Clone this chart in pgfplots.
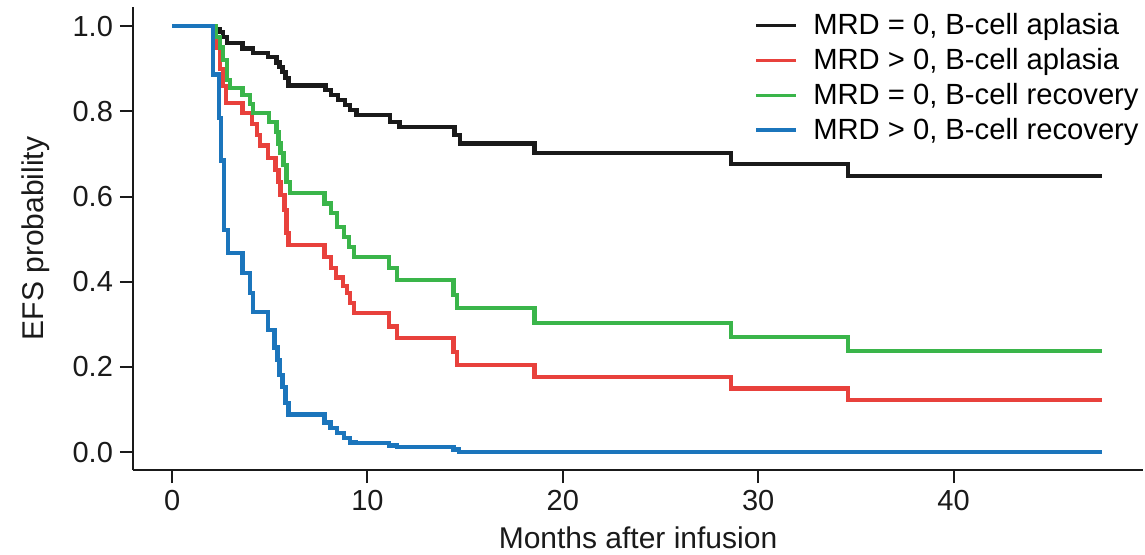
\documentclass[border=0pt]{standalone}
\usepackage{fontspec}
\setmainfont{Liberation Sans}
\usepackage{pgfplots}
\pgfplotsset{compat=1.18}
\definecolor{cblack}{HTML}{1A1A1A}
\definecolor{cred}{HTML}{E8413C}
\definecolor{cgreen}{HTML}{3AB54A}
\definecolor{cblue}{HTML}{1B75BC}
\begin{document}
\begin{tikzpicture}
\begin{axis}[
  at={(0,0)}, anchor=south west,
  scale only axis, width=505pt, height=231.5pt,
  xmin=-2, xmax=49.7, ymin=-0.042, ymax=1.045,
  axis lines=left, axis line style={-, line width=1.2pt, color=cblack},
  tick align=outside, major tick length=6.5pt,
  tick style={line width=1pt, color=cblack},
  xtick={0,10,20,30,40}, ytick={0,0.2,0.4,0.6,0.8,1.0},
  yticklabels={0.0,0.2,0.4,0.6,0.8,1.0},
  /pgf/number format/assume math mode=true,
  tick label style={font=\fontsize{14.5}{16}\selectfont, color=cblack},
  xlabel={Months after infusion}, ylabel={EFS probability},
  every axis x label/.style={at={(axis description cs:0.5,0)}, anchor=center, yshift=-34pt},
  every axis y label/.style={at={(axis description cs:-0.096,0.5)}, rotate=90, anchor=center},
  label style={font=\fontsize{15}{17}\selectfont, color=cblack},
  legend style={at={(1.0,0.995)}, anchor=north east, draw=none, fill=none,
    font=\fontsize{14.6}{16.5}\selectfont, row sep=1.3pt, inner sep=0pt,
    cells={anchor=west}},
  legend image code/.code={\draw[#1, line width=1.6pt] (0pt,0pt) -- (20pt,0pt); \path[draw=none] (20pt,0pt) -- (26.5pt,0pt);},
  every axis plot/.append style={const plot, line width=2.2pt, mark=none},
]
\addplot[color=cblack] coordinates {
(0,1) (2.2,0.993) (2.45,0.986) (2.6,0.974) (2.8,0.96) (3.6,0.948) (4.15,0.937)
(4.9,0.927) (5.35,0.915) (5.5,0.904) (5.65,0.892) (5.8,0.878) (5.95,0.861)
(7.85,0.85) (8.15,0.838) (8.5,0.826) (8.85,0.815) (9.1,0.803) (9.45,0.791)
(11.15,0.775) (11.65,0.763) (14.45,0.744) (14.75,0.725) (18.55,0.702)
(28.6,0.676) (34.6,0.648) (47.6,0.648)};
\addlegendentry{MRD = 0, B-cell aplasia}
\addplot[color=cred] coordinates {
(0,1) (2.25,0.95) (2.45,0.90) (2.6,0.86) (2.75,0.82) (3.6,0.796) (4.1,0.770)
(4.35,0.745) (4.5,0.72) (4.9,0.69) (5.3,0.662) (5.45,0.634) (5.55,0.603)
(5.75,0.568) (5.85,0.514) (5.95,0.486) (7.8,0.458) (8.15,0.432) (8.4,0.41)
(8.75,0.39) (8.95,0.373) (9.1,0.35) (9.3,0.326) (11.1,0.295) (11.5,0.268)
(14.4,0.235) (14.6,0.204) (18.55,0.176) (28.6,0.149) (34.6,0.122) (47.6,0.122)};
\addlegendentry{MRD > 0, B-cell aplasia}
\addplot[color=cgreen] coordinates {
(0,1) (2.25,0.975) (2.45,0.95) (2.6,0.92) (2.8,0.873) (2.95,0.855) (3.6,0.838)
(4.0,0.817) (4.15,0.796) (4.95,0.775) (5.35,0.751) (5.45,0.725) (5.55,0.702)
(5.7,0.674) (5.85,0.634) (6.05,0.608) (7.8,0.584) (8.15,0.561) (8.45,0.528)
(8.8,0.505) (9.05,0.481) (9.3,0.458) (11.1,0.432) (11.5,0.404) (14.4,0.369)
(14.6,0.338) (18.55,0.303) (28.6,0.27) (34.6,0.237) (47.6,0.237)};
\addlegendentry{MRD = 0, B-cell recovery}
\addplot[color=cblue] coordinates {
(0,1) (2.1,0.887) (2.4,0.784) (2.5,0.685) (2.65,0.521) (2.85,0.467) (3.6,0.42)
(4.0,0.373) (4.15,0.329) (4.9,0.286) (5.25,0.246) (5.4,0.216) (5.5,0.181)
(5.65,0.153) (5.8,0.115) (5.95,0.088) (7.8,0.07) (8.1,0.056) (8.45,0.045)
(8.8,0.033) (9.1,0.023) (9.4,0.021) (11.1,0.016) (11.5,0.012) (14.4,0.006)
(14.7,0.0) (47.6,0.0)};
\addlegendentry{MRD > 0, B-cell recovery}
\end{axis}
\pgfresetboundingbox
\path[use as bounding box] (-66.5pt,-42pt) rectangle (506pt,235pt);
\end{tikzpicture}
\end{document}
